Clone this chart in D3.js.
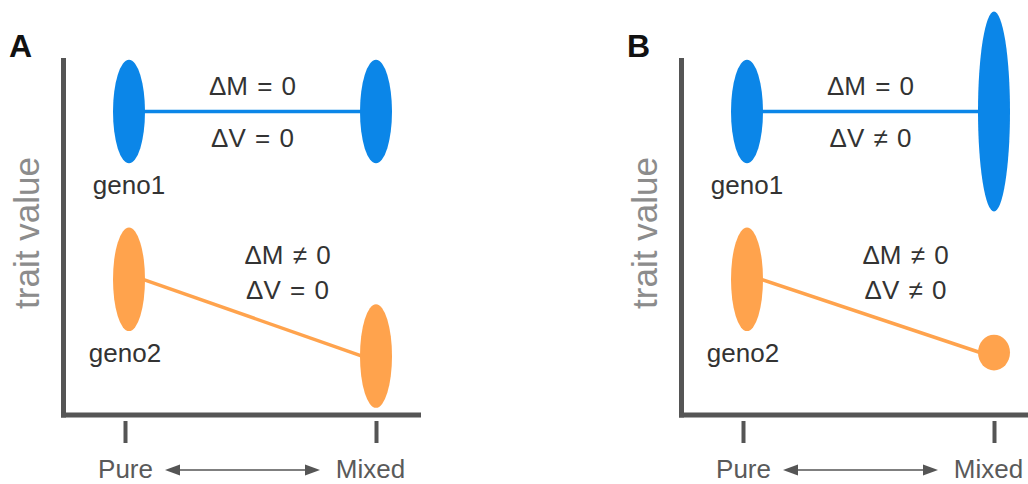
<!DOCTYPE html>
<html><head><meta charset="utf-8">
<script src="https://cdn.jsdelivr.net/npm/d3@7"></script>
<style>body{margin:0;background:#fff}svg{display:block}</style>
</head><body>
<svg id="chart" width="1028" height="484"></svg>
<script>
// ---- data ----
const categories = ["Pure", "Mixed"];
const panelLabels = ["A", "B"];
const genotypes = ["geno1", "geno2"];
const yTitle = "trait value";
// panel A: trait mean and spread per category (Pure, Mixed)
const geno1MeanA = [85, 85];
const geno1SpreadA = [14.5, 14.5];
const geno2MeanA = [38, 16.5];
const geno2SpreadA = [14.5, 14.5];
// panel B
const geno1MeanB = [85, 85];
const geno1SpreadB = [14.5, 28];
const geno2MeanB = [38, 17.5];
const geno2SpreadB = [14.5, 5];
// annotations
const deltaLabelsA = [["ΔM = 0", "ΔV = 0"], ["ΔM ≠ 0", "ΔV = 0"]];
const deltaLabelsB = [["ΔM = 0", "ΔV ≠ 0"], ["ΔM ≠ 0", "ΔV ≠ 0"]];

const panels = [
  {label: panelLabels[0], means: [geno1MeanA, geno2MeanA], spreads: [geno1SpreadA, geno2SpreadA], deltas: deltaLabelsA},
  {label: panelLabels[1], means: [geno1MeanB, geno2MeanB], spreads: [geno1SpreadB, geno2SpreadB], deltas: deltaLabelsB}
];

// ---- style ----
const FONT = "'Liberation Sans', Arial, sans-serif";
const colors = ["#0b86e8", "#ffa34d"];
const axisColor = "#555";
const panelOffset = 618;
const axisX = 63.5, axisBottom = 415, axisRight = 421;
const rx = 16;
const FS = 26;

const svg = d3.select("#chart");
const y = d3.scaleLinear().domain([0, 100]).range([axisBottom, 58]);
const xMark = d3.scalePoint().domain(categories).range([129, 376]);
const xTick = d3.scalePoint().domain(categories).range([125, 376]);

panels.forEach((p, pi) => {
  const g = svg.append("g").attr("transform", `translate(${pi * panelOffset},0)`);

  // panel letter
  g.append("text").attr("x", 9).attr("y", 57)
    .attr("font-family", FONT).attr("font-weight", "bold").attr("font-size", 32)
    .attr("fill", "#111").text(p.label);

  // y axis
  const ya = g.append("g").attr("transform", `translate(${axisX},0)`)
    .call(d3.axisLeft(y).ticks(0).tickSizeOuter(0));
  ya.select(".domain").attr("stroke", axisColor).attr("stroke-width", 5)
    .attr("d", `M0,${axisBottom + 2.5}V${y(100)}`);

  // x axis base line
  g.append("line").attr("x1", axisX - 2.5).attr("x2", axisRight)
    .attr("y1", axisBottom).attr("y2", axisBottom)
    .attr("stroke", axisColor).attr("stroke-width", 5);

  // x axis ticks
  const xa = g.append("g").attr("transform", `translate(0,${axisBottom + 6})`)
    .call(d3.axisBottom(xTick).tickSize(22).tickSizeOuter(0));
  xa.select(".domain").remove();
  xa.selectAll(".tick line").attr("stroke", axisColor).attr("stroke-width", 4);
  xa.selectAll(".tick text").attr("y", 57).attr("dy", 0)
    .attr("dx", d => d === "Mixed" ? -6 : 0)
    .attr("font-family", FONT).attr("font-size", FS).attr("fill", "#5a5a5a");

  // double arrow between categories
  const ax1 = xTick(categories[0]) + 40, ax2 = xTick(categories[1]) - 56, ay = 470;
  g.append("line").attr("x1", ax1 + 10).attr("x2", ax2 - 10).attr("y1", ay).attr("y2", ay)
    .attr("stroke", axisColor).attr("stroke-width", 1.6);
  g.append("path").attr("d", `M${ax1},${ay}L${ax1 + 15},${ay - 5.5}L${ax1 + 15},${ay + 5.5}Z`).attr("fill", axisColor);
  g.append("path").attr("d", `M${ax2},${ay}L${ax2 - 15},${ay - 5.5}L${ax2 - 15},${ay + 5.5}Z`).attr("fill", axisColor);

  // y title
  g.append("text").attr("transform", `translate(39,233) rotate(-90)`)
    .attr("text-anchor", "middle").attr("font-family", FONT).attr("font-size", 35)
    .attr("fill", "#8c8c8c").text(yTitle);

  // genotype series
  genotypes.forEach((geno, gi) => {
    const means = p.means[gi], spreads = p.spreads[gi];
    const pts = categories.map((c, ci) => ({c, m: means[ci], s: spreads[ci]}));
    g.append("line")
      .attr("x1", xMark(categories[0]) + rx - 2).attr("y1", y(means[0]))
      .attr("x2", xMark(categories[1]) - rx + 2).attr("y2", y(means[1]))
      .attr("stroke", colors[gi]).attr("stroke-width", 3.5);
    g.selectAll(null).data(pts).enter().append("ellipse")
      .attr("cx", d => xMark(d.c)).attr("cy", d => y(d.m))
      .attr("rx", rx).attr("ry", d => y(0) - y(d.s))
      .attr("fill", colors[gi]);
    g.append("text").attr("x", xMark(categories[0]) - gi * 4)
      .attr("y", y(means[0] - spreads[0]) + 31)
      .attr("text-anchor", "middle").attr("font-family", FONT).attr("font-size", FS)
      .attr("fill", "#333").text(geno);
  });

  // delta annotations
  const midTop = (xMark(categories[0]) + xMark(categories[1])) / 2;
  const m1 = y(p.means[0][0]);
  const addLabel = (x, yy, t) => g.append("text").attr("x", x).attr("y", yy)
    .attr("text-anchor", "middle").attr("font-family", FONT).attr("font-size", FS)
    .attr("word-spacing", 2).attr("fill", "#333").text(t);
  addLabel(midTop, m1 - 17, p.deltas[0][0]);
  addLabel(midTop, m1 + 35, p.deltas[0][1]);
  const m2 = y(p.means[1][0]);
  addLabel(midTop + 35, m2 - 15, p.deltas[1][0]);
  addLabel(midTop + 35, m2 + 20, p.deltas[1][1]);
});
</script>
</body></html>
